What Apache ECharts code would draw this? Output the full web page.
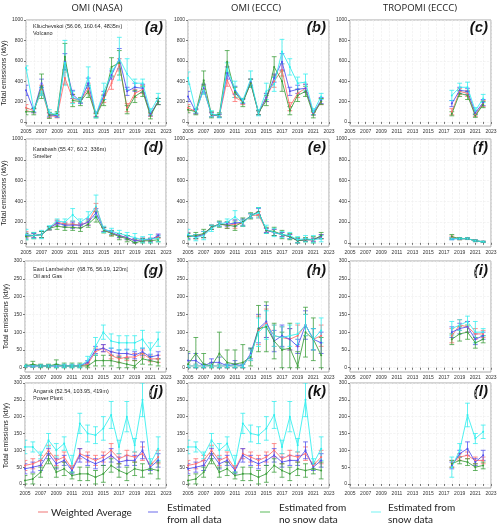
<!DOCTYPE html>
<html><head><meta charset="utf-8">
<script src="https://cdn.jsdelivr.net/npm/echarts@6/dist/echarts.min.js"></script>
<style>html,body{margin:0;padding:0;background:#fff}#c{width:500px;height:527px}</style>
</head><body><div id="c"></div><script>
// ---------- DATA ----------
const yearsOMI = [2005,2006,2007,2008,2009,2010,2011,2012,2013,2014,2015,2016,2017,2018,2019,2020,2021,2022];
const yearsTROPOMI = [2018,2019,2020,2021,2022];
const xTickLabels = [2005,2007,2009,2011,2013,2015,2017,2019,2021,2023];
const yTicksLarge = [0,200,400,600,800,1000];
const yTicksSmall = [0,50,100,150,200,250,300];
const columnTitles = ['OMI (NASA)','OMI (ECCC)','TROPOMI (ECCC)'];
const seriesNames = ['Weighted Average','Estimated\nfrom all data','Estimated from\nno snow data','Estimated from\nsnow data'];
const siteLines = [
  ['Kliuchevskoi (56.06, 160.64, 4835m)','Volcano'],
  ['Karabash (55.47, 60.2, 336m)','Smelter'],
  ['East Lambeishor  (68.76, 56.19, 120m)','Oil and Gas'],
  ['Angarsk (52.54, 103.95, 419m)','Power Plant']
];
const panelLetters = ['(a)','(b)','(c)','(d)','(e)','(f)','(g)','(h)','(i)','(j)','(k)','(l)'];
const yAxisTitle = 'Total emissions (kt/y)';

// (a) Kliuchevskoi OMI NASA
const a_wavg  = [140,110,310,60,55,430,230,210,330,70,230,380,560,140,280,320,70,200];
const a_all   = [310,110,380,70,60,590,270,200,380,70,260,460,620,300,340,330,80,200];
const a_nosnow= [100,100,350,65,80,640,210,200,300,60,210,540,580,120,250,300,60,200];
const a_snow  = [530,120,300,90,70,580,240,210,440,70,300,480,620,470,380,380,100,240];
const a_wavg_err  = [30,20,50,20,15,60,40,20,50,15,40,60,60,40,40,40,15,30];
const a_all_err   = [50,20,40,20,15,80,40,20,50,20,40,40,100,40,40,40,20,30];
const a_nosnow_err= [30,30,120,30,20,130,60,40,60,20,50,90,120,40,60,50,30,30];
const a_snow_err  = [20,20,40,30,20,220,60,20,100,30,80,40,210,150,40,40,30,40];
// (b) Kliuchevskoi OMI ECCC
const b_wavg  = [140,100,320,70,60,410,240,200,380,90,240,400,510,150,280,330,80,200];
const b_all   = [250,100,330,70,60,480,310,200,390,90,240,430,590,300,320,330,90,210];
const b_nosnow= [120,100,410,70,70,590,290,190,380,90,210,540,400,110,260,300,70,200];
const b_snow  = [430,110,310,80,60,520,320,210,420,90,300,370,690,540,380,390,100,250];
const b_wavg_err  = [30,20,40,20,15,60,40,30,40,20,40,60,60,40,40,40,15,30];
const b_all_err   = [50,20,40,20,15,60,40,20,30,20,40,40,80,40,40,40,20,30];
const b_nosnow_err= [30,30,90,30,20,110,50,40,40,20,50,100,100,40,60,50,30,30];
const b_snow_err  = [60,20,40,30,20,60,80,20,80,30,80,70,120,80,60,80,30,30];
// (c) Kliuchevskoi TROPOMI
const c_wavg  = [100,300,280,70,180];
const c_all   = [180,310,300,90,190];
const c_nosnow= [80,280,260,60,170];
const c_snow  = [260,340,340,110,230];
const c_wavg_err  = [30,30,30,15,30];
const c_all_err   = [30,30,30,20,30];
const c_nosnow_err= [20,30,40,15,30];
const c_snow_err  = [50,40,50,30,40];
// (d) Karabash OMI NASA
const d_wavg  = [80,70,80,140,200,180,180,170,200,340,130,90,70,50,20,30,30,60];
const d_all   = [70,70,80,140,190,170,170,170,200,290,130,100,70,50,20,30,30,70];
const d_nosnow= [60,70,80,140,160,150,150,140,180,250,120,90,60,40,0,20,20,30];
const d_snow  = [80,70,80,150,210,200,270,200,250,350,130,110,90,70,50,30,40,40];
const d_wavg_err  = [30,20,30,15,20,20,30,20,30,40,20,20,20,20,20,15,15,15];
const d_all_err   = [25,20,30,15,20,20,30,20,30,40,20,20,20,20,20,15,15,15];
const d_nosnow_err= [30,30,30,15,30,30,30,30,30,50,25,25,30,30,30,20,20,20];
const d_snow_err  = [50,30,40,15,20,30,60,30,50,110,30,30,30,30,40,30,40,30];
// (e) Karabash OMI ECCC
const e_wavg  = [70,60,80,150,180,170,180,190,260,270,120,100,80,60,20,30,30,60];
const e_all   = [70,60,80,150,180,180,190,200,260,300,120,100,80,60,20,30,30,60];
const e_nosnow= [60,70,90,150,180,170,160,200,260,300,120,110,80,60,20,30,30,70];
const e_snow  = [80,50,70,140,180,200,250,190,260,290,130,100,80,70,30,40,30,40];
const e_wavg_err  = [30,20,30,20,20,30,40,30,20,30,20,30,20,20,20,15,15,20];
const e_all_err   = [25,20,30,20,20,20,30,30,20,30,20,30,20,20,20,15,15,20];
const e_nosnow_err= [30,30,40,20,30,30,40,40,30,40,30,40,40,30,30,20,30,30];
const e_snow_err  = [50,30,40,30,20,30,60,30,20,50,40,40,30,30,30,30,40,30];
// (f) Karabash TROPOMI
const f_wavg  = [50,40,40,20,10];
const f_all   = [40,40,40,20,10];
const f_nosnow= [60,40,40,20,10];
const f_snow  = [40,40,40,20,10];
const f_wavg_err  = [15,10,8,8,5];
const f_all_err   = [10,8,8,8,5];
const f_nosnow_err= [20,10,8,8,5];
const f_snow_err  = [10,8,8,8,5];
// (g) East Lambeishor OMI NASA
const g_wavg  = [5,5,5,5,5,5,5,5,10,45,55,35,25,30,30,40,25,25];
const g_all   = [5,5,5,5,5,5,5,5,15,50,55,45,40,40,35,45,30,35];
const g_nosnow= [5,10,5,5,10,5,5,5,5,20,20,20,15,10,5,25,20,15];
const g_snow  = [5,5,5,5,5,5,5,5,20,60,100,75,70,70,70,80,50,80];
const g_wavg_err  = [3,3,3,3,3,3,3,3,5,10,10,10,10,10,10,10,8,10];
const g_all_err   = [3,3,3,3,3,3,3,3,5,10,10,10,10,12,10,10,8,10];
const g_nosnow_err= [5,8,5,5,12,8,8,8,5,15,15,15,15,15,15,15,12,10];
const g_snow_err  = [3,3,3,3,5,5,5,5,12,25,20,20,20,20,20,25,20,20];
// (h) East Lambeishor OMI ECCC
const h_wavg  = [5,5,5,5,5,5,5,5,35,105,125,90,85,80,90,120,80,90];
const h_all   = [20,20,5,15,15,5,10,5,40,110,130,75,90,80,60,120,80,70];
const h_nosnow= [10,40,10,5,40,15,10,15,30,110,115,75,50,55,5,100,80,35];
const h_snow  = [5,5,5,5,5,5,5,5,35,100,120,90,85,90,95,120,80,105];
const h_wavg_err  = [5,5,5,5,5,5,5,5,15,40,40,30,30,30,30,30,30,30];
const h_all_err   = [20,20,5,10,15,5,10,5,15,40,45,30,30,30,20,40,30,30];
const h_nosnow_err= [35,45,30,10,60,35,40,50,25,65,70,50,50,70,40,70,60,50];
const h_snow_err  = [5,5,5,5,5,5,5,5,15,40,40,30,30,30,30,30,30,35];
// (i) East Lambeishor TROPOMI
const i_wavg  = [90,120,115,95,95];
const i_all   = [100,110,115,80,90];
const i_nosnow= [80,95,100,70,80];
const i_snow  = [110,120,130,100,100];
const i_wavg_err  = [20,15,15,15,10];
const i_all_err   = [15,15,15,15,10];
const i_nosnow_err= [15,20,20,15,10];
const i_snow_err  = [20,15,15,30,10];
// (j) Angarsk OMI NASA
const j_wavg  = [55,60,70,100,70,80,45,90,80,70,80,100,75,85,80,90,55,80];
const j_all   = [45,50,55,90,60,70,40,85,70,60,70,85,65,70,70,100,50,70];
const j_nosnow= [10,15,35,75,35,45,25,30,30,20,30,55,40,30,45,40,45,40];
const j_snow  = [110,110,85,130,100,120,60,180,150,145,165,205,110,200,115,250,60,105];
const j_wavg_err  = [15,15,15,15,15,15,10,15,15,15,15,20,15,15,15,20,10,20];
const j_all_err   = [15,15,15,15,15,15,10,20,15,15,15,20,15,15,15,25,10,20];
const j_nosnow_err= [15,15,15,15,15,20,10,20,20,20,25,20,20,20,20,20,15,25];
const j_snow_err  = [20,15,10,20,20,20,25,30,25,25,35,40,20,45,20,50,15,35];
// (k) Angarsk OMI ECCC
const k_wavg  = [55,60,70,100,70,80,45,90,80,70,80,100,75,85,80,90,55,80];
const k_all   = [45,50,55,90,60,70,40,85,70,60,70,85,65,70,70,100,50,70];
const k_nosnow= [10,15,35,75,35,45,25,30,30,20,30,55,40,30,45,40,45,40];
const k_snow  = [110,110,85,130,100,120,60,180,150,145,165,205,110,200,115,250,60,105];
const k_wavg_err  = [15,15,15,15,15,15,10,15,15,15,15,20,15,15,15,20,10,20];
const k_all_err   = [15,15,15,15,15,15,10,20,15,15,15,20,15,15,15,25,10,20];
const k_nosnow_err= [15,15,15,15,15,20,10,20,20,20,25,20,20,20,20,20,15,25];
const k_snow_err  = [20,15,10,20,20,20,25,30,25,25,35,40,20,45,20,50,15,35];
// (l) Angarsk TROPOMI
const l_wavg  = [60,80,85,70,70];
const l_all   = [55,90,105,65,85];
const l_nosnow= [60,70,65,50,55];
const l_snow  = [50,100,205,135,155];
const l_wavg_err  = [10,10,10,10,10];
const l_all_err   = [10,10,20,10,15];
const l_nosnow_err= [10,10,10,10,10];
const l_snow_err  = [30,20,35,15,20];

const panels = [
  {years: yearsOMI, vals:[a_wavg,a_all,a_nosnow,a_snow], errs:[a_wavg_err,a_all_err,a_nosnow_err,a_snow_err]},
  {years: yearsOMI, vals:[b_wavg,b_all,b_nosnow,b_snow], errs:[b_wavg_err,b_all_err,b_nosnow_err,b_snow_err]},
  {years: yearsTROPOMI, vals:[c_wavg,c_all,c_nosnow,c_snow], errs:[c_wavg_err,c_all_err,c_nosnow_err,c_snow_err]},
  {years: yearsOMI, vals:[d_wavg,d_all,d_nosnow,d_snow], errs:[d_wavg_err,d_all_err,d_nosnow_err,d_snow_err]},
  {years: yearsOMI, vals:[e_wavg,e_all,e_nosnow,e_snow], errs:[e_wavg_err,e_all_err,e_nosnow_err,e_snow_err]},
  {years: yearsTROPOMI, vals:[f_wavg,f_all,f_nosnow,f_snow], errs:[f_wavg_err,f_all_err,f_nosnow_err,f_snow_err]},
  {years: yearsOMI, vals:[g_wavg,g_all,g_nosnow,g_snow], errs:[g_wavg_err,g_all_err,g_nosnow_err,g_snow_err]},
  {years: yearsOMI, vals:[h_wavg,h_all,h_nosnow,h_snow], errs:[h_wavg_err,h_all_err,h_nosnow_err,h_snow_err]},
  {years: yearsTROPOMI, vals:[i_wavg,i_all,i_nosnow,i_snow], errs:[i_wavg_err,i_all_err,i_nosnow_err,i_snow_err]},
  {years: yearsOMI, vals:[j_wavg,j_all,j_nosnow,j_snow], errs:[j_wavg_err,j_all_err,j_nosnow_err,j_snow_err]},
  {years: yearsOMI, vals:[k_wavg,k_all,k_nosnow,k_snow], errs:[k_wavg_err,k_all_err,k_nosnow_err,k_snow_err]},
  {years: yearsTROPOMI, vals:[l_wavg,l_all,l_nosnow,l_snow], errs:[l_wavg_err,l_all_err,l_nosnow_err,l_snow_err]}
];

// ---------- STYLE / LAYOUT ----------
const colors = ['#ff6a6a','#5050f0','#3a9e3a','#30eeee'];
const legendColors = ['#f5a3a3','#9d9df2','#92d292','#a3f7f7'];
const colLeft = [25,188,350];
const colW = 141;
const rowTop = [20,139,261,383];
const rowH = [106,108,111,105];
const yMax = [1000,1000,300,300];
const yMin = [-40,-40,-12,-12];
const siteOff = [6,10,8,8];
const letterOff = [7.5,8.5,10,9];
const FONT = 'Liberation Sans';

const grids=[], xAxes=[], yAxes=[], series=[], graphics=[];
for (let p=0;p<12;p++){
  const r=Math.floor(p/3), c=p%3;
  grids.push({left:colLeft[c], top:rowTop[r], width:colW, height:rowH[r], show:true, borderColor:'#a8a8a8', borderWidth:1, containLabel:false});
  xAxes.push({gridIndex:p, type:'value', min:2005, max:2023, interval:2,
    axisLine:{show:false},
    axisTick:{show:true, length:2, lineStyle:{color:'#777'}},
    minorTick:{show:true, splitNumber:2, length:2, lineStyle:{color:'#777'}},
    axisLabel:{fontSize:5, color:'#333', margin:3, fontFamily:FONT, formatter:v=>String(v),
      customValues: xTickLabels},
    splitLine:{show:true, lineStyle:{color:'#ededed', type:'dashed', width:0.6}},
    minorSplitLine:{show:true, lineStyle:{color:'#ededed', type:'dashed', width:0.6}}
  });
  const ticks = yMax[r]===1000 ? yTicksLarge : yTicksSmall;
  const ya = {gridIndex:p, type:'value', min:yMin[r], max:yMax[r],
    axisLine:{show:false},
    axisTick:{show:true, length:2, customValues:ticks, lineStyle:{color:'#777'}},
    axisLabel:{fontSize:5, color:'#333', margin:3, fontFamily:FONT, formatter:v=>String(v), customValues:ticks},
    splitLine:{show:true, lineStyle:{color:'#ededed', type:'dashed', width:0.6}}
  };
  if (c===0){
    ya.name = yAxisTitle; ya.nameLocation='middle'; ya.nameGap=12;
    ya.nameTextStyle={fontSize:7, color:'#222', fontFamily:FONT};
  }
  yAxes.push(ya);
  const pan = panels[p];
  for (let s=0;s<4;s++){
    const vals = pan.vals[s], errs = pan.errs[s];
    const lineData = pan.years.map((y,i)=>[y, vals[i]]);
    const errData = pan.years.map((y,i)=>[y, Math.max(0, vals[i]-errs[i]), vals[i]+errs[i]]);
    const col = colors[s];
    series.push({type:'custom', xAxisIndex:p, yAxisIndex:p, name:seriesNames[s], data:errData, clip:true,
      renderItem:(params, api)=>{
        const x=api.value(0), lo=api.value(1), hi=api.value(2);
        const a=api.coord([x,hi]), b=api.coord([x,lo]);
        const w=2.4;
        const st={stroke:col, lineWidth:0.9, opacity:0.85};
        return {type:'group', children:[
          {type:'line', shape:{x1:a[0],y1:a[1],x2:b[0],y2:b[1]}, style:st},
          {type:'line', shape:{x1:a[0]-w,y1:a[1],x2:a[0]+w,y2:a[1]}, style:st},
          {type:'line', shape:{x1:b[0]-w,y1:b[1],x2:b[0]+w,y2:b[1]}, style:st}
        ]};
      }, z:2});
    series.push({type:'line', xAxisIndex:p, yAxisIndex:p, name:seriesNames[s], data:lineData,
      symbol:'circle', symbolSize:2, showSymbol:true,
      lineStyle:{color:col, width:1, opacity:0.85}, itemStyle:{color:col}, z:3});
  }
  // panel letter
  graphics.push({type:'text', left:null, x:colLeft[c]+colW-3, y:rowTop[r]+letterOff[r],
    style:{text:panelLetters[p], fontSize:15, fontWeight:'bold', fontStyle:'italic', fontFamily:FONT,
      fill:'#111', align:'right', verticalAlign:'middle'}});
  if (c===0){
    graphics.push({type:'text', x:colLeft[0]+8, y:rowTop[r]+siteOff[r],
      style:{text:siteLines[r].join('\n'), fontSize:5.5, lineHeight:7, fontFamily:FONT, fill:'#222', align:'left', verticalAlign:'middle'}});
  }
}
// fix site text vertical pos: first line centered at offset
graphics.forEach(g=>{ if(g.style && g.style.lineHeight===7){ g.y += 3.5; } });

// column titles
const titleX = [97,256,420];
for (let c=0;c<3;c++){
  graphics.push({type:'text', x:titleX[c], y:8, style:{text:columnTitles[c], fontSize:9.5, fontFamily:'Open Sans', fill:'#222', align:'center', verticalAlign:'middle'}});
}
// legend
const legX = [38,148,260,371];
const legTextX = [51,167,279,388];
for (let s=0;s<4;s++){
  graphics.push({type:'line', shape:{x1:legX[s], y1:512, x2:legX[s]+10, y2:512}, style:{stroke:legendColors[s], lineWidth:1.5}});
  graphics.push({type:'text', x:legTextX[s], y:s===0?513:514, style:{text:seriesNames[s], fontSize:10, lineHeight:12, fontFamily:'Lato', fill:'#222', align:'left', verticalAlign:'middle'}});
}

const chart = echarts.init(document.getElementById('c'), null, {renderer:'canvas'});
chart.setOption({animation:false, backgroundColor:'#fff', grid:grids, xAxis:xAxes, yAxis:yAxes, series:series, graphic:graphics});
</script></body></html>
